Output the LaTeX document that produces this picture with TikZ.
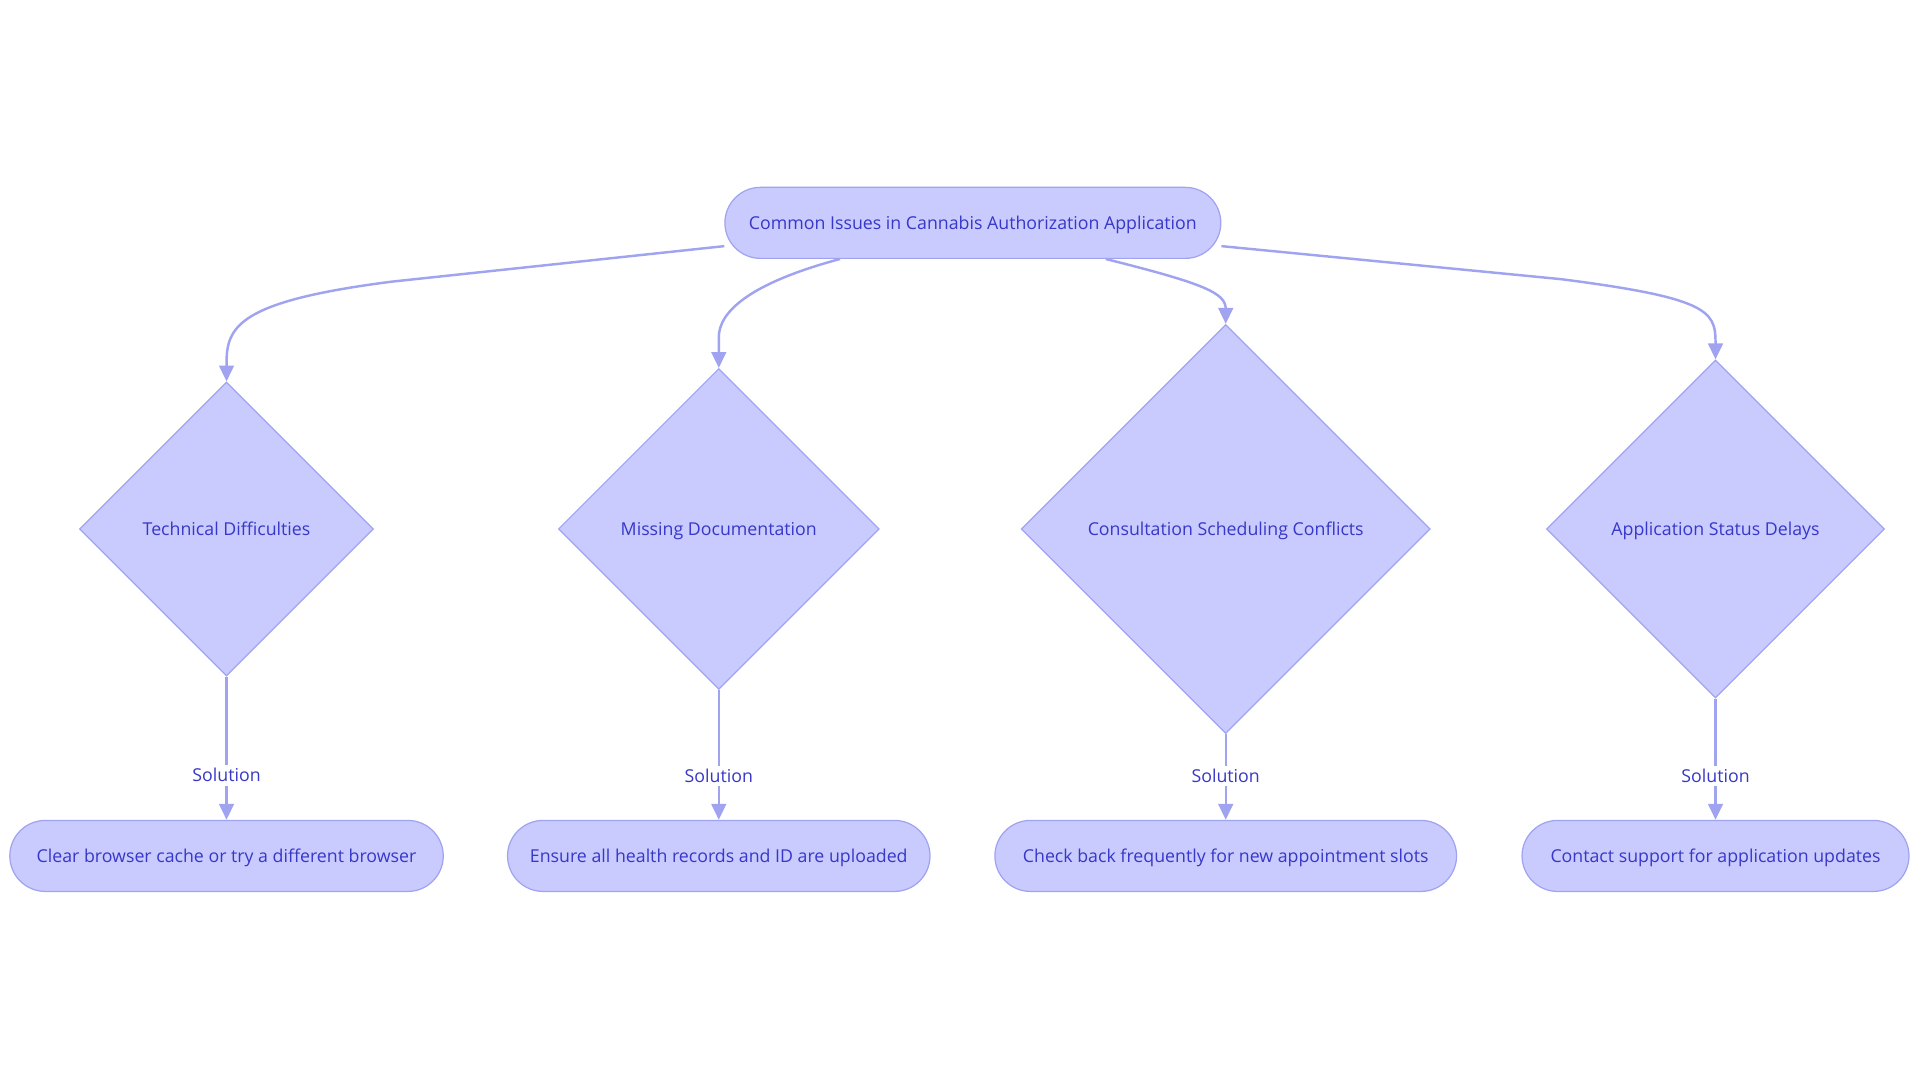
\documentclass[tikz,border=0pt]{standalone}
\usepackage{fontspec}
\setmainfont{Open Sans}
\usetikzlibrary{calc}
\usetikzlibrary{arrows.meta}
\usetikzlibrary{shapes.geometric}

\definecolor{boxfill}{RGB}{201,203,254}
\definecolor{boxline}{RGB}{160,163,240}
\definecolor{boxtext}{RGB}{55,55,200}

\begin{document}
\begin{tikzpicture}[x=1pt,y=-1pt,
  term/.style={draw=boxline, fill=boxfill, text=boxtext, line width=1pt, rounded corners=29pt, minimum height=58pt, inner sep=0pt, text height=11.5pt, text depth=1pt, font=\fontsize{14.5}{17}\selectfont},
  issue/.style={diamond, aspect=1, draw=boxline, fill=boxfill, text=boxtext, line width=1pt, inner sep=0pt, text height=11.5pt, text depth=1pt, font=\fontsize{14.5}{17}\selectfont},
  link/.style={draw=boxline, line width=2pt, -{Triangle[length=13pt,width=12pt]}},
  tag/.style={fill=white, text=boxtext, inner sep=2pt, text height=11.5pt, text depth=1pt, font=\fontsize{14.5}{17}\selectfont}]
\useasboundingbox (0,0) rectangle (1568,884);

\node[term, minimum width=405pt] (top) at (794.5,182) {Common Issues in Cannabis Authorization Application};

\node[issue, minimum width=240pt, minimum height=240pt] (tech) at (185,432) {Technical Difficulties};
\node[issue, minimum width=262pt, minimum height=262pt] (docs) at (587,432) {Missing Documentation};
\node[issue, minimum width=334pt, minimum height=334pt] (sched) at (1001,432) {Consultation Scheduling Conflicts};
\node[issue, minimum width=276pt, minimum height=276pt] (status) at (1401,432) {Application Status Delays};

\node[term, minimum width=354pt] (cache) at (185,699) {Clear browser cache or try a different browser};
\node[term, minimum width=345pt] (records) at (587,699) {Ensure all health records and ID are uploaded};
\node[term, minimum width=377pt] (slots) at (1001,699) {Check back frequently for new appointment slots};
\node[term, minimum width=316pt] (support) at (1401,699) {Contact support for application updates};

\draw[link] ([yshift=-19pt]top.west) -- (320,230) .. controls (195,246) and ($(tech.north)+(0,-45)$) .. ($(tech.north)+(0,-15)$) -- (tech.north);
\draw[link] ([xshift=-108.5pt]top.south) .. controls (610,232) and ($(docs.north)+(0,-45)$) .. ($(docs.north)+(0,-25)$) -- (docs.north);
\draw[link] ([xshift=108.5pt]top.south) .. controls (985,232) and ($(sched.north)+(0,-25)$) .. ($(sched.north)+(0,-12)$) -- (sched.north);
\draw[link] ([yshift=-19pt]top.east) -- (1275,228) .. controls (1392,243) and ($(status.north)+(0,-40)$) .. ($(status.north)+(0,-15)$) -- (status.north);

\foreach \from/\to/\p in {tech/cache/0.69, docs/records/0.66, sched/slots/0.49, status/support/0.64}
  \draw[link] (\from.south) -- node[tag, pos=\p] {Solution} (\to.north);
\end{tikzpicture}
\end{document}
